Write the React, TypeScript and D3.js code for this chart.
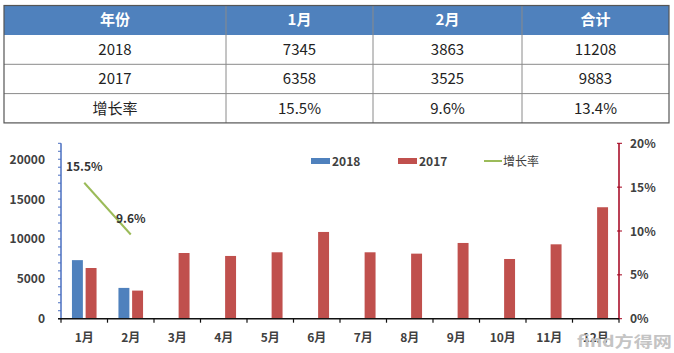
import React from 'react';
import * as d3 from 'd3';

// table
const tableHeader = ['年份', '1月', '2月', '合计'];
const tableRows = [
  ['2018', '7345', '3863', '11208'],
  ['2017', '6358', '3525', '9883'],
  ['增长率', '15.5%', '9.6%', '13.4%'],
];
const colWeights = [222, 147, 149, 147];

// chart
const months = ['1月', '2月', '3月', '4月', '5月', '6月', '7月', '8月', '9月', '10月', '11月', '12月'];
const series = ['2018', '2017'];
const sales2018 = [7345, 3863];
const sales2017 = [6358, 3525, 8240, 7870, 8330, 10880, 8330, 8160, 9500, 7490, 9330, 13980];
const growth = [0.155, 0.096];
const leftTicks = [0, 5000, 10000, 15000, 20000];
const rightTicks = [0, 0.05, 0.1, 0.15, 0.2];

const W = 674;
const H = 353;
const CJK = '"Noto Sans CJK SC", "Noto Sans", sans-serif';
const BLUE = '#4f81bd';
const RED = '#c0504d';
const GREEN = '#9bbb59';
const TXT = '#404040';

const App: React.FC = () => {
  // table geometry
  const tLeft = 4, tRight = 669, tTop = 5.5, headH = 29.5, rowH = 29.3;
  const cum = [0, ...d3.cumsum(colWeights)];
  const tx = d3.scaleLinear().domain([0, cum[cum.length - 1]]).range([tLeft, tRight]);
  const ty = (i: number) => tTop + headH + i * rowH;
  const tBottom = ty(tableRows.length);

  // chart geometry
  const x0 = 61, x1 = 619, yBase = 318.7, yTop = 143.3;
  const x = d3.scaleBand<string>().domain(months).range([x0, x1]);
  const bw = x.bandwidth();
  const xs = d3.scaleBand<string>().domain(series).range([bw / 2 - 12.3, bw / 2 + 12.3]).paddingInner(0.2);
  const yL = d3.scaleLinear().domain([0, 22000]).range([yBase, yTop]);
  const yR = d3.scaleLinear().domain([0, 0.2]).range([yBase, yTop]);
  const minor = d3.range(0, 22001, 1000);
  const line = d3.line<number>()
    .x((_, i) => (x(months[i]) ?? 0) + bw / 2)
    .y(d => yR(d));

  return (
    <div style={{ position: 'fixed', left: 0, top: 0 }}>
      <svg width={W} height={H} style={{ display: 'block', background: '#fff' }}>
        {/* table */}
        <rect x={tLeft} y={tTop} width={tRight - tLeft} height={headH} fill={BLUE} />
        {tableHeader.map((h, j) => (
          <text key={h} x={(tx(cum[j]) + tx(cum[j + 1])) / 2} y={tTop + headH / 2 + 5}
            textAnchor="middle" fill="#fff" fontWeight="bold" fontSize={15} fontFamily={CJK}>{h}</text>
        ))}
        {tableRows.map((row, i) => row.map((c, j) => (
          <text key={i + '-' + j} x={(tx(cum[j]) + tx(cum[j + 1])) / 2} y={ty(i) + rowH / 2 + 5.5}
            textAnchor="middle" fill="#222" fontSize={15} fontFamily={CJK}>{c}</text>
        )))}
        {tableRows.map((_, i) => i > 0 && (
          <line key={'h' + i} x1={tLeft} x2={tRight} y1={ty(i)} y2={ty(i)} stroke="#8a8a8a" strokeWidth={1} />
        ))}
        {cum.slice(1, -1).map((c, j) => (
          <line key={'v' + j} x1={tx(c)} x2={tx(c)} y1={tTop} y2={tBottom} stroke="#8a8a8a" strokeWidth={1} />
        ))}
        <rect x={tLeft} y={tTop} width={tRight - tLeft} height={tBottom - tTop} fill="none" stroke="#555" strokeWidth={1.2} />

        {/* bars */}
        {sales2018.map((v, i) => (
          <rect key={'a' + i} x={(x(months[i]) ?? 0) + (xs('2018') ?? 0)} y={yL(v)}
            width={xs.bandwidth()} height={yBase - yL(v)} fill={BLUE} />
        ))}
        {sales2017.map((v, i) => (
          <rect key={'b' + i} x={(x(months[i]) ?? 0) + (xs('2017') ?? 0)} y={yL(v)}
            width={xs.bandwidth()} height={yBase - yL(v)} fill={RED} />
        ))}

        {/* growth line */}
        <path d={line(growth) ?? ''} fill="none" stroke={GREEN} strokeWidth={2} />
        {growth.map((g, i) => (
          <text key={'g' + i} x={(x(months[i]) ?? 0) + bw / 2} y={yR(g) - 12}
            textAnchor="middle" fill="#333" fontSize={12} fontWeight="bold" fontFamily={CJK}>
            {d3.format('.1%')(g)}
          </text>
        ))}

        {/* left axis */}
        <line x1={x0} x2={x0} y1={yTop} y2={yBase} stroke="#4a6fc0" strokeWidth={1.5} />
        {minor.map(t => (
          <line key={'m' + t} x1={x0 - 3} x2={x0} y1={yL(t)} y2={yL(t)} stroke="#4a6fc0" strokeWidth={1} />
        ))}
        {leftTicks.map(t => (
          <text key={'l' + t} x={45} y={yL(t) + 4.5} textAnchor="end" fill={TXT}
            fontSize={12} fontWeight="bold" fontFamily={CJK}>{t}</text>
        ))}

        {/* right axis */}
        <line x1={x1} x2={x1} y1={yTop} y2={yBase} stroke="#a3001c" strokeWidth={1.5} />
        {rightTicks.map(t => (
          <g key={'r' + t}>
            <line x1={x1 - 2} x2={x1 + 3} y1={yR(t)} y2={yR(t)} stroke="#a3001c" strokeWidth={1} />
            <text x={630} y={yR(t) + 4.5} textAnchor="start" fill={TXT}
              fontSize={12} fontWeight="bold" fontFamily={CJK}>{d3.format('.0%')(t)}</text>
          </g>
        ))}

        {/* x axis */}
        <line x1={x0 - 3} x2={x1} y1={yBase} y2={yBase} stroke="#111" strokeWidth={1.5} />
        {d3.range(months.length + 1).map(i => (
          <line key={'xt' + i} x1={x0 + i * bw} x2={x0 + i * bw} y1={yBase} y2={yBase + 4} stroke="#111" strokeWidth={1.2} />
        ))}
        {months.map(m => (
          <text key={m} x={(x(m) ?? 0) + bw / 2} y={342} textAnchor="middle" fill={TXT}
            fontSize={12} fontWeight="bold" fontFamily={CJK}>{m}</text>
        ))}

        {/* legend */}
        <rect x={311} y={158} width={19} height={6} fill={BLUE} />
        <text x={332} y={165.5} fill={TXT} fontSize={12} fontWeight="bold" fontFamily={CJK}>2018</text>
        <rect x={398} y={158} width={19} height={6} fill={RED} />
        <text x={419} y={165.5} fill={TXT} fontSize={12} fontWeight="bold" fontFamily={CJK}>2017</text>
        <line x1={484} x2={502} y1={161} y2={161} stroke={GREEN} strokeWidth={2} />
        <text x={503} y={165.5} fill={TXT} fontSize={12} fontFamily={CJK}>增长率</text>

        {/* watermark */}
        <text x={577} y={347} fill="#c4c4c4" fontSize={15} fontFamily={CJK} fontWeight="bold"
          textLength={95} lengthAdjust="spacingAndGlyphs">find方得网</text>
      </svg>
    </div>
  );
};

export default App;
